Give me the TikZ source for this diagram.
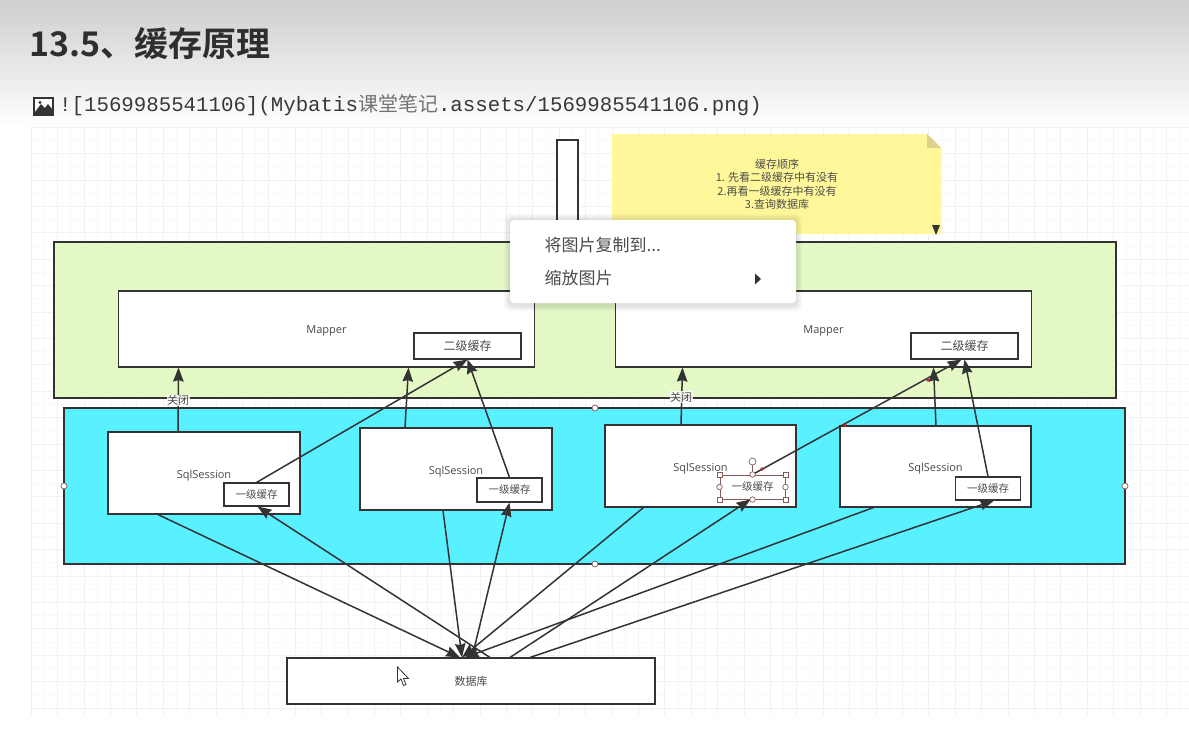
\documentclass[tikz,border=0pt]{standalone}
\usepackage{fontspec}
\usetikzlibrary{arrows.meta,calc}
\setmainfont{Noto Sans CJK SC}
\newfontfamily\cjkbold[BoldFont={Noto Sans CJK SC Bold}]{Noto Sans CJK SC}
\newfontfamily\codefont{Liberation Mono}
\newfontfamily\latinfont{Open Sans}
\definecolor{ink}{HTML}{333333}
\definecolor{txt}{HTML}{4A4A4A}
\definecolor{gridc}{HTML}{F1F1F1}
\definecolor{gridm}{HTML}{F9F9F9}
\definecolor{greenbg}{HTML}{E4F9C6}
\definecolor{cyanbg}{HTML}{59F0FF}
\definecolor{notey}{HTML}{FFF799}
\definecolor{notef}{HTML}{DCD28A}
\definecolor{sel}{HTML}{8A5A5A}
\tikzset{
  x=1pt,y=-1pt,
  panel/.style={draw=ink,line width=1.1pt,inner sep=0pt},
  cardbox/.style={panel,fill=white,text=txt,font=\latinfont\fontsize{11}{12}\selectfont},
  mapperbox/.style={cardbox,text height=8pt,text depth=0pt},
  sessionbox/.style={cardbox,text height=10pt,text depth=0pt},
  cachebox/.style={panel,fill=white,text=txt,font=\fontsize{10.5}{12}\selectfont},
  cachetwo/.style={panel,fill=white,text=txt,font=\fontsize{12}{12}\selectfont},
  conn/.style={draw=ink,line width=1.5pt,-{Stealth[length=14pt,width=10.5pt,inset=1.5pt]}},
  handle/.style={draw=sel,fill=white,line width=.7pt,inner sep=0pt},
  edgelabel/.style={fill=white,fill opacity=.85,text opacity=1,text=txt,inner sep=.5pt,font=\fontsize{11}{12}\selectfont},
}
\begin{document}
\begin{tikzpicture}
\useasboundingbox (0,0) rectangle (1189,734);
\fill[white] (0,0) rectangle (1189,734);
% page header gradient
\shade[top color=black!19,bottom color=white] (0,0) rectangle (1189,128);
% grid
\foreach \i in {0,...,89}{\draw[gridm,line width=.5pt] ({31+\i*13.2},127) -- ({31+\i*13.2},715);}
\foreach \i in {0,...,44}{\draw[gridm,line width=.5pt] (31,{127+\i*13.2}) -- (1189,{127+\i*13.2});}
\foreach \i in {0,...,44}{\draw[gridc,line width=.6pt] ({31+\i*26.4},127) -- ({31+\i*26.4},715);}
\foreach \i in {0,...,22}{\draw[gridc,line width=.6pt] (31,{127+\i*26.4}) -- (1189,{127+\i*26.4});}
% headings
\node[anchor=west,inner sep=0pt,text=black!82,font=\cjkbold\bfseries\fontsize{34}{38}\selectfont] (title) at (29.500,44) {13.5、缓存原理};
\fill[black!80] (33,97) rectangle (54,116);
\fill[white] (35,99) rectangle (52,112);
\fill[black!80] (35,112) -- (41,104) -- (45,108) -- (48,104) -- (52,109) -- (52,112) -- cycle;
\fill[black!80] (40,102.500) circle (1.6);
\node[anchor=west,inner sep=0pt,text=black!78,font=\codefont\fontsize{20.75}{22}\selectfont] (code) at (59,105) {![1569985541106](Mybatis{\rmfamily\color{black!55}\fontsize{20}{22}\selectfont 课堂笔记}.assets/1569985541106.png)};
% tall box
\node[panel,fill=white,minimum width=21pt,minimum height=84pt] (top) at (567.5,182) {};
% sticky
\fill[notey] (612,134) -- (927,134) -- (941,148) -- (941,234) -- (612,234) -- cycle;
\fill[notef] (927,134) -- (941,148) -- (927,148) -- cycle;
\fill[ink] (932,225) -- (940,225) -- (936,235) -- cycle;
\node[align=center,text=black!70,inner sep=0pt,font=\fontsize{11}{13.500}\selectfont] (note) at (777,184.500) {缓存顺序\\1. 先看二级缓存中有没有\\2.再看一级缓存中有没有\\3.查询数据库};
% green
\node[panel,fill=greenbg,minimum width=1062pt,minimum height=156pt] (green) at (585,320) {};
\node[mapperbox,minimum width=416pt,minimum height=76pt] (m1) at (326.500,329) {Mapper};
\node[mapperbox,minimum width=416pt,minimum height=76pt] (m2) at (823.500,329) {Mapper};
\node[cachetwo,minimum width=107pt,minimum height=26pt] (c1) at (467.5,346) {二级缓存};
\node[cachetwo,minimum width=107pt,minimum height=26pt] (c2) at (964.5,346) {二级缓存};
% cyan
\node[panel,fill=cyanbg,minimum width=1061pt,minimum height=156pt] (cyan) at (594.5,486) {};
\node[sessionbox,minimum width=192pt,minimum height=82pt] (s1) at (204,473) {SqlSession};
\node[sessionbox,minimum width=192pt,minimum height=82pt] (s2) at (456,469) {SqlSession};
\node[sessionbox,minimum width=191pt,minimum height=82pt] (s3) at (700.5,466) {SqlSession};
\node[sessionbox,minimum width=191pt,minimum height=81pt] (s4) at (935.5,466.500) {SqlSession};
\node[cachebox,minimum width=65pt,minimum height=23pt] (l1) at (256.5,494.500) {一级缓存};
\node[cachebox,minimum width=65pt,minimum height=24pt] (l2) at (509.5,490) {一级缓存};
\node[draw=sel,fill=white,line width=1pt,text=txt,inner sep=0pt,font=\fontsize{10.5}{12}\selectfont,minimum width=65pt,minimum height=24pt] (l3) at (752.5,487) {一级缓存};
\node[cachebox,minimum width=65pt,minimum height=23pt] (l4) at (988,488.500) {一级缓存};
% database
\node[cardbox,font=\fontsize{11}{12}\selectfont,minimum width=368pt,minimum height=46pt] (db) at (471,681) {数据库};
% connectors up
\draw[conn] ([xshift=-26pt]s1.north) -- node[edgelabel,pos=.49] (close1) {关闭} ([xshift=-148pt]m1.south);
\draw[conn] (l1.north) -- (c1.south);
\draw[conn] ([xshift=-51pt]s2.north) -- ([xshift=82pt]m1.south);
\draw[conn] (l2.north) -- (c1.south);
\draw[conn] ([xshift=-19.500pt]s3.north) -- ([xshift=-141pt]m2.south);
\draw[conn] (l3.north) -- ([xshift=-3pt]c2.south);
\draw[conn] ([xshift=.5pt]s4.north) -- ([xshift=110pt]m2.south);
\draw[conn] (l4.north) -- (c2.south);
\node[edgelabel] (close2) at (681,397) {关闭};
% connectors to and from database
\draw[conn] ([xshift=-46pt]s1.south) -- ([xshift=-11pt]db.north);
\draw[conn] ([xshift=19pt]db.north) -- ([xshift=1pt]l1.south);
\draw[conn] ([xshift=-13pt]s2.south) -- ([xshift=-9pt]db.north);
\draw[conn] ([xshift=1pt]db.north) -- (l2.south);
\draw[conn] ([xshift=-57pt]s3.south) -- ([xshift=-9pt]db.north);
\draw[conn] ([xshift=39pt]db.north) -- ([xshift=-2pt]l3.south);
\draw[conn] ([xshift=-62pt]s4.south) -- ([xshift=-6pt]db.north);
\draw[conn] ([xshift=59pt]db.north) -- ([xshift=6pt]l4.south);
% selection handles
\draw[sel,line width=.7pt] (l3.north) -- +(0,-12);
\node[handle,circle,minimum size=7pt] (h0) at ($(l3.north)+(0,-13)$) {};
\foreach \a/\n in {north west/a,north east/b,south west/c,south east/d}{\node[handle,minimum size=5pt] (h\n) at (l3.\a) {};}
\foreach \a/\n in {north/e,south/f,east/g,west/h}{\node[handle,circle,minimum size=5.500pt] (h\n) at (l3.\a) {};}
\foreach \p in {(762,469),(845,425),(928,380)}{\fill[red!70!black!85] \p circle (1.8);}
\foreach \p in {(595,408),(595,564),(64,486),(1125,486)}{\draw[handle] \p circle (3);}
% mouse cursor
\draw[fill=white,draw=black!80,line width=.8pt] (397.500,667) -- (397.500,682) -- (401,679) -- (403.500,685.500) -- (406,684.500) -- (403.500,678.500) -- (408.500,678.500) -- cycle;
% context menu
\foreach \s in {1,...,6}{\fill[black,opacity=.018,rounded corners=5pt] ({510-\s},{220-\s}) rectangle ({796+\s},{303+\s+2});}
\node[fill=white,rounded corners=4pt,minimum width=286pt,minimum height=83pt,inner sep=0pt] (menu) at (653,261.500) {};
\node[anchor=west,inner sep=0pt,text=black!70,font=\fontsize{17}{19}\selectfont] (m-a) at (544.500,245.500) {将图片复制到...};
\node[anchor=west,inner sep=0pt,text=black!70,font=\fontsize{17}{19}\selectfont] (m-b) at (544.500,278) {缩放图片};
\fill[ink] (755,273.500) -- (761,279) -- (755,284.500) -- cycle;
\end{tikzpicture}
\end{document}
